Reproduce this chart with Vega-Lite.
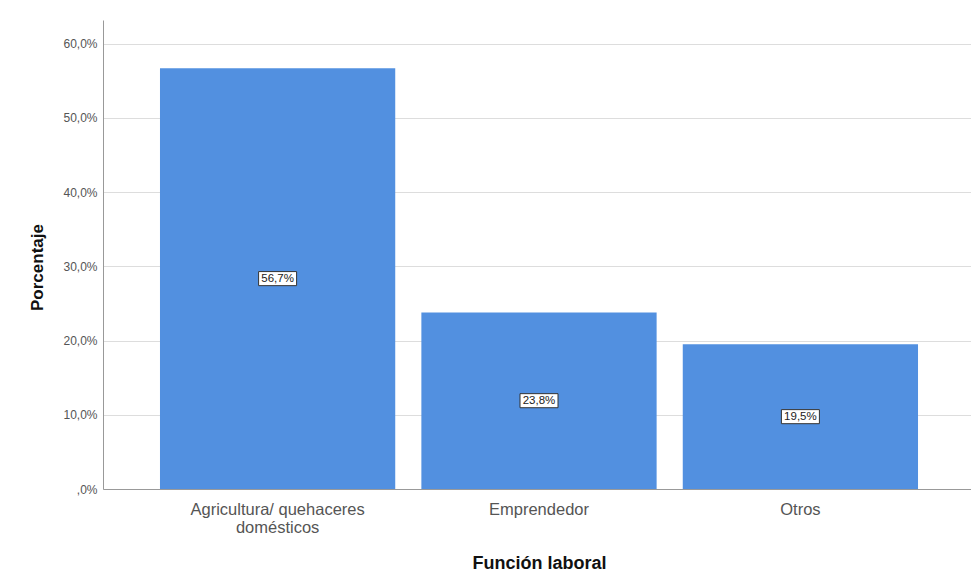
{
  "$schema": "https://vega.github.io/schema/vega-lite/v6.json",
  "width": 872,
  "height": 469,
  "autosize": {"type": "none"},
  "padding": {"left": 103, "top": 20, "right": 0, "bottom": 95},
  "background": "white",
  "config": {"view": {"stroke": null}, "font": "Liberation Sans"},
  "data": {
    "values": [
      {"funcion": "Agricultura/ quehaceres domésticos", "pct": 56.7},
      {"funcion": "Emprendedor", "pct": 23.8},
      {"funcion": "Otros", "pct": 19.5}
    ]
  },
  "transform": [
    {"calculate": "datum.pct / 2", "as": "mid"},
    {"calculate": "replace(format(datum.pct, '.1f'), '.', ',') + '%'", "as": "lbl"}
  ],
  "encoding": {
    "x": {
      "field": "funcion",
      "type": "nominal",
      "sort": null,
      "title": "Función laboral",
      "scale": {"paddingInner": 0.1, "paddingOuter": 0.218},
      "axis": {
        "labelAngle": 0,
        "labelFontSize": 16.5,
        "labelColor": "#555555",
        "labelPadding": 12,
        "labelLineHeight": 18,
        "labelExpr": "datum.value == 'Agricultura/ quehaceres domésticos' ? ['Agricultura/ quehaceres', 'domésticos'] : datum.label",
        "ticks": false,
        "domainColor": "#999999",
        "titleFontSize": 18,
        "titleFontWeight": "bold",
        "titleColor": "#111111",
        "titlePadding": 19
      }
    }
  },
  "layer": [
    {
      "mark": {"type": "bar", "color": "#5290e0"},
      "encoding": {
        "y": {
          "field": "pct",
          "type": "quantitative",
          "title": "Porcentaje",
          "scale": {"domain": [0, 63.2], "nice": false},
          "axis": {
            "values": [0, 10, 20, 30, 40, 50, 60],
            "format": ".1f",
            "labelExpr": "datum.value == 0 ? ',0%' : replace(datum.label, '.', ',') + '%'",
            "labelFontSize": 12,
            "labelColor": "#555555",
            "labelPadding": 6,
            "ticks": false,
            "grid": true,
            "gridColor": "#dddddd",
            "domainColor": "#999999",
            "titleFontSize": 17,
            "titleFontWeight": "bold",
            "titleColor": "#111111",
            "titleX": -66,
            "titleY": 247,
            "titleBaseline": "middle",
            "titleAlign": "center"
          }
        }
      }
    },
    {
      "mark": {
        "type": "point",
        "shape": "M-1,-0.37H1V0.37H-1Z",
        "size": 1444,
        "filled": true,
        "fill": "white",
        "stroke": "#333333",
        "strokeWidth": 1,
        "fillOpacity": 1,
        "strokeOpacity": 1
      },
      "encoding": {"y": {"field": "mid", "type": "quantitative"}}
    },
    {
      "mark": {"type": "text", "fontSize": 11.5, "color": "#222222"},
      "encoding": {
        "y": {"field": "mid", "type": "quantitative"},
        "text": {"field": "lbl"}
      }
    }
  ]
}
